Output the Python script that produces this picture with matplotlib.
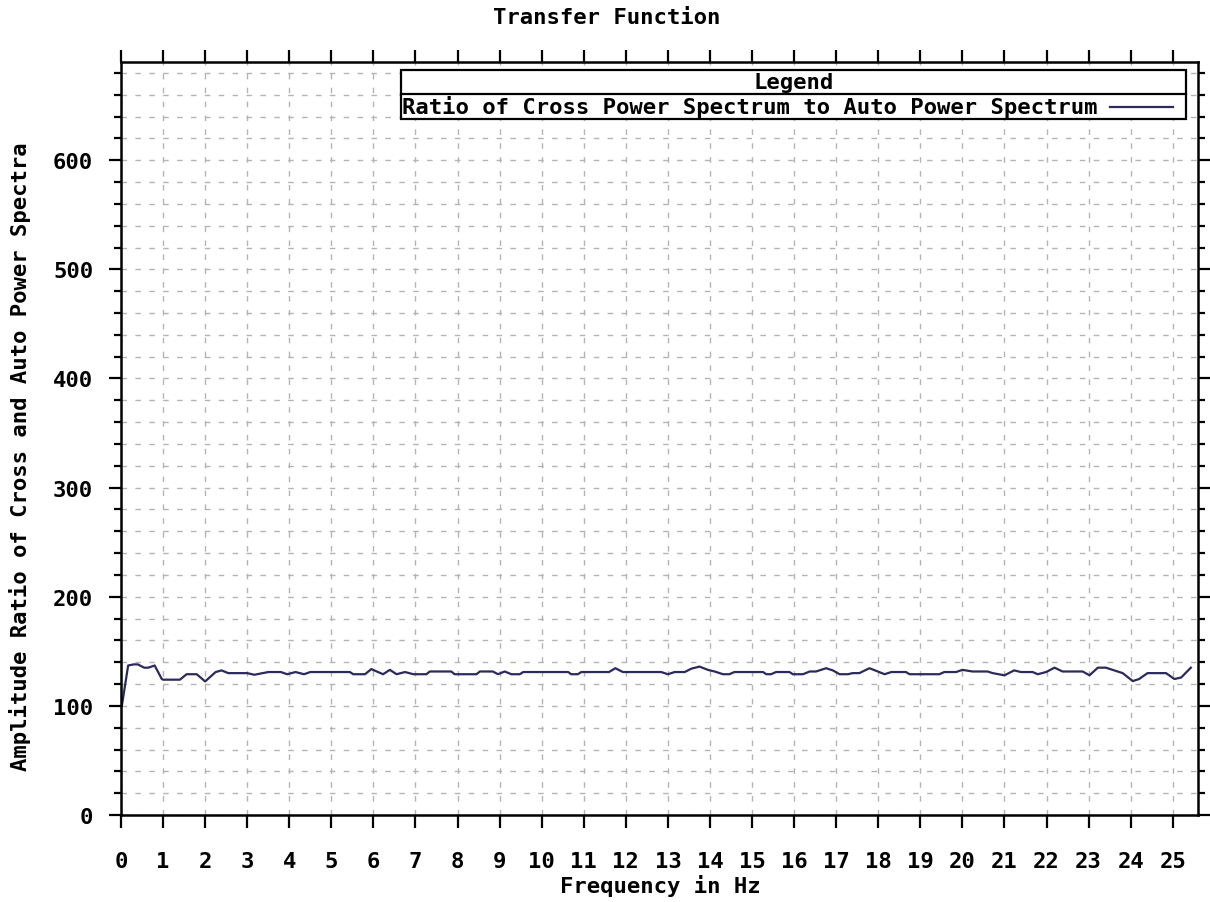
import matplotlib
matplotlib.use("Agg")
import matplotlib.pyplot as plt
from matplotlib.lines import Line2D
from matplotlib.patches import Rectangle
from matplotlib.ticker import MultipleLocator

# transfer function estimate, read at the breakpoints of the trace
freq_hz = [0.0, 0.02, 0.17, 0.3, 0.4, 0.55, 0.65, 0.8, 0.97, 1.0, 1.4, 1.56, 1.8,
           2.0, 2.25, 2.39, 2.55, 3.0, 3.17, 3.5, 3.8, 3.95, 4.15, 4.35, 4.5,
           5.44, 5.52, 5.8, 5.95, 6.11, 6.23, 6.39, 6.55, 6.75, 6.95, 7.26, 7.34,
           7.85, 7.93, 8.45, 8.53, 8.84, 8.96, 9.12, 9.28, 9.48, 9.56, 10.63,
           10.7, 10.86, 10.94, 11.6, 11.75, 11.93, 12.84, 13.0, 13.16, 13.4,
           13.55, 13.75, 13.95, 14.11, 14.31, 14.46, 14.58, 15.26, 15.34, 15.45,
           15.57, 15.89, 15.97, 16.21, 16.37, 16.52, 16.76, 16.92, 17.08, 17.28,
           17.39, 17.55, 17.79, 17.99, 18.15, 18.31, 18.66, 18.74, 19.45, 19.57,
           19.85, 20.0, 20.24, 20.6, 20.72, 21.0, 21.23, 21.39, 21.67, 21.79,
           21.99, 22.19, 22.38, 22.86, 23.02, 23.22, 23.41, 23.61, 23.81, 24.05,
           24.2, 24.4, 24.84, 25.04, 25.2, 25.43]
ratio = [100, 100, 137, 138, 138, 135, 135, 137, 124.6, 124, 124, 129, 129,
         122.4, 131, 132.5, 130, 130, 128.5, 131, 131, 129, 131, 129, 131,
         131, 129, 129, 133.7, 131, 129, 133, 129, 131, 129, 129, 131.5,
         131.5, 129, 129, 131.5, 131.5, 129, 131.5, 129, 129, 131, 131,
         129, 129, 131, 131, 134.5, 131, 131, 129, 131, 131,
         134, 136, 133, 131.5, 129, 129, 131, 131, 129, 129,
         131, 131, 129, 129, 131.5, 131.5, 134.5, 132.5, 129, 129,
         130, 130, 134.5, 131.5, 129, 131, 131, 129, 129, 131,
         131, 133, 131.5, 131.5, 130, 128, 132.5, 131, 131, 129,
         131, 135, 131.5, 131.5, 128, 135, 135, 132.5, 130, 122.7,
         124.6, 130, 130, 124.6, 126, 135]

TITLE = "Transfer Function"
XLABEL = "Frequency in Hz"
YLABEL = "Amplitude Ratio of Cross and Auto Power Spectra"
SERIES = "Ratio of Cross Power Spectrum to Auto Power Spectrum"
LINE_COLOR = "#2a2a5c"
FONT = dict(family="DejaVu Sans Mono", weight="bold")
FS = 16
W, H = 1210, 903

fig = plt.figure(figsize=(W / 100, H / 100), dpi=100)
ax = fig.add_axes([121 / W, 1 - 816 / H, 1077 / W, 753 / H])

ax.plot(freq_hz, ratio, color=LINE_COLOR, lw=1.6)

ax.set_xlim(0, 25.6)
ax.set_ylim(0, 690)
ax.xaxis.set_major_locator(MultipleLocator(1))
ax.yaxis.set_major_locator(MultipleLocator(100))
ax.yaxis.set_minor_locator(MultipleLocator(20))
ax.grid(which="both", color="#b4b4b4", ls=(0, (4, 6)), lw=1.0)
ax.tick_params(which="major", direction="out", length=9, width=1.6,
               top=True, right=True, labelsize=FS)
ax.tick_params(which="minor", direction="out", length=5, width=1.6,
               left=True, right=True)
ax.tick_params(axis="x", pad=17)
ax.tick_params(axis="y", pad=11)
for lbl in ax.get_xticklabels() + ax.get_yticklabels():
    lbl.set_fontfamily(FONT["family"])
    lbl.set_fontweight("bold")
for s in ax.spines.values():
    s.set_linewidth(1.8)

fig.text(660 / W, 1 - 886 / H, XLABEL, ha="center", va="center",
         fontsize=FS, **FONT)
fig.text(20 / W, 1 - 457 / H, YLABEL, ha="center", va="center",
         rotation=90, fontsize=FS, **FONT)
fig.text(607 / W, 1 - 18 / H, TITLE, ha="center", va="center",
         fontsize=FS, **FONT)

# boxed legend: header row, then the series entry with its line sample
x0, x1 = 401 / W, 1186 / W
y_top, y_mid, y_bot = 1 - 71 / H, 1 - 95 / H, 1 - 120 / H
fig.patches.append(Rectangle((x0, y_bot), x1 - x0, y_top - y_bot,
                             transform=fig.transFigure, fc="white",
                             ec="black", lw=1.6, zorder=5))
fig.lines.append(Line2D([x0, x1], [y_mid, y_mid], transform=fig.transFigure,
                        color="black", lw=1.6, zorder=6))
fig.text((x0 + x1) / 2, (y_top + y_mid) / 2, "Legend", ha="center",
         va="center", fontsize=FS, zorder=7, **FONT)
fig.text(x0 + 0.001, (y_mid + y_bot) / 2, SERIES, ha="left", va="center",
         fontsize=FS, zorder=7, **FONT)
fig.lines.append(Line2D([1110 / W, 1173 / W],
                        [(y_mid + y_bot) / 2] * 2, transform=fig.transFigure,
                        color=LINE_COLOR, lw=1.6, zorder=7))

fig.savefig("out.png", dpi=100)
